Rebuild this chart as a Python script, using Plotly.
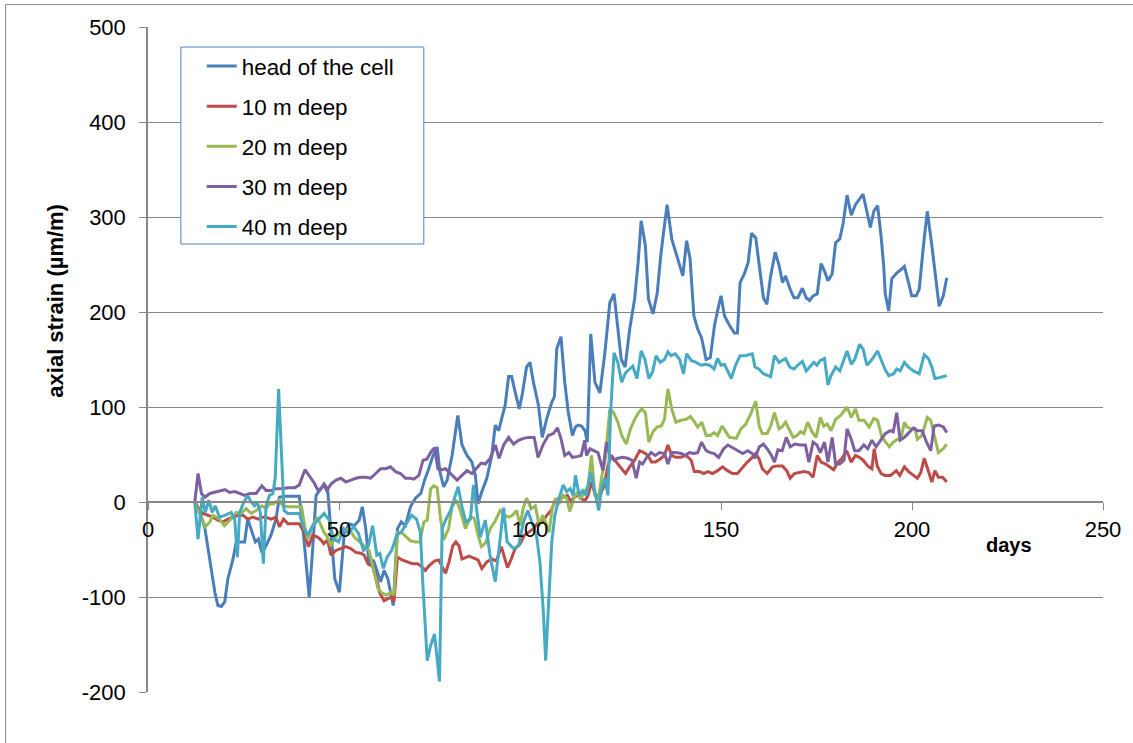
import plotly.graph_objects as go

# ---------------- data ----------------
head_days = [12.25, 13.6, 14.9, 16.2, 17.5, 18.3, 19.2, 20.1, 20.9, 22.2, 23.1, 24.0, 25.3, 26.1, 27.0, 28.1, 28.9, 29.8, 30.9, 32.2,
             33.5, 34.4, 35.7, 37.5, 39.6, 40.5, 41.4, 42.2, 43.1, 44.0, 45.3, 46.1, 47.0, 47.9, 48.9, 50.1, 51.4, 52.7, 54.0, 55.3,
             56.1, 57.0, 57.9, 59.0, 60.0, 60.9, 61.8, 62.8, 64.2, 65.3, 66.3, 67.4, 68.7, 70.0, 71.4, 72.4, 73.5, 74.6, 75.7, 76.4,
             77.4, 78.3, 79.6, 81.1, 82.2, 83.5, 84.8, 85.7, 86.4, 87.4, 88.7, 90.0, 90.9, 91.8, 92.6, 93.5, 94.4, 95.2, 96.1, 97.2,
             98.0, 99.1, 100.0, 100.9, 102.2, 103.2, 104.4, 105.7, 106.4, 107.0, 108.1, 109.1, 110.0, 111.1, 111.9, 112.6, 113.5, 114.4, 115.0, 115.9,
             117.0, 118.3, 119.6, 120.9, 122.0, 123.0, 123.9, 124.9, 126.1, 127.4, 128.3, 129.1, 130.2, 131.0, 132.2, 133.3, 134.3, 135.2, 135.9, 137.1,
             138.5, 140.0, 141.0, 141.9, 142.9, 143.9, 144.9, 146.1, 147.2, 148.3, 149.2, 150.0, 150.9, 152.2, 153.5, 154.3, 155.0, 156.1, 157.1, 158.0,
             159.1, 160.2, 161.1, 162.0, 163.0, 164.2, 165.2, 166.1, 166.9, 168.1, 169.1, 170.1, 171.3, 172.3, 173.2, 174.1, 175.2, 176.2, 177.1, 178.0,
             179.1, 180.0, 181.1, 182.0, 183.0, 184.1, 185.2, 187.2, 188.2, 189.1, 190.0, 191.0, 191.9, 192.6, 193.0, 193.9, 194.7, 196.0, 197.2, 198.0,
             199.1, 199.9, 201.1, 201.9, 203.0, 204.0, 205.2, 206.0, 207.1, 208.2, 209.1]
head_vals = [0, -10, -28, -60, -95, -109, -110, -105, -81, -61, -42, -42, -42, -18, -28, -42, -39, -53, -46, -35,
             -18, 5, 6, 6, 6, -25, -67, -100, -50, 7, 14, 19, 14, -28, -81, -95, -32, -23, -25, -19,
             -5, -28, -67, -61, -74, -84, -72, -81, -109, -28, -21, -25, -5, 4, 9, 23, 35, 49, 58, 32,
             16, 23, 49, 91, 60, 49, 42, 28, -2, 11, 25, 49, 81, 75, 88, 102, 132, 132, 116, 98,
             114, 142, 147, 126, 102, 68, 88, 105, 111, 161, 174, 126, 95, 70, 79, 81, 80, 75, 63, 177,
             126, 115, 157, 210, 219, 182, 150, 142, 182, 214, 252, 296, 270, 214, 198, 220, 262, 291, 313, 277,
             259, 238, 275, 256, 196, 182, 173, 150, 152, 186, 203, 217, 196, 186, 178, 178, 231, 240, 252, 283,
             278, 245, 215, 208, 238, 263, 249, 231, 238, 224, 215, 215, 225, 215, 212, 217, 219, 251, 243, 233,
             240, 273, 277, 294, 323, 302, 313, 324, 306, 289, 306, 312, 280, 248, 219, 201, 235, 241, 245, 248,
             231, 217, 217, 224, 270, 306, 270, 245, 206, 217, 236]

d10_days = [12.25, 13.6, 14.4, 15.7, 17.0, 18.3, 19.6, 20.9, 22.2, 23.5, 24.9, 26.1, 27.5, 28.9, 29.8, 30.9, 32.2, 33.5, 34.4, 35.5,
            36.6, 38.3, 39.6, 40.9, 42.0, 43.1, 44.4, 45.3, 46.0, 47.0, 47.9, 49.2, 50.5, 51.8, 53.1, 54.4, 55.7, 56.6, 57.6, 58.7,
            59.6, 60.7, 61.8, 62.8, 63.7, 64.4, 65.3, 66.5, 67.9, 69.2, 70.5, 71.4, 72.6, 73.6, 75.1, 76.1, 77.0, 77.9, 78.8, 79.8,
            80.6, 81.4, 82.2, 83.2, 84.1, 85.3, 86.4, 87.4, 88.7, 90.0, 91.2, 92.5, 93.3, 94.1, 95.1, 96.1, 97.4, 98.5, 99.6, 100.9,
            102.2, 103.3, 104.4, 105.5, 106.5, 107.6, 108.7, 109.8, 110.7, 111.5, 112.6, 113.5, 114.5, 115.2, 116.1, 117.1, 118.3, 119.4, 120.4, 121.3,
            122.6, 123.9, 125.0, 126.1, 127.4, 128.7, 129.8, 130.9, 131.8, 132.8, 134.0, 135.2, 136.1, 137.1, 138.2, 139.5, 140.9, 142.2, 143.0, 144.3,
            145.5, 146.5, 147.8, 149.1, 150.4, 151.7, 153.0, 154.3, 155.7, 156.9, 158.2, 159.1, 160.0, 160.8, 162.1, 163.5, 164.8, 166.1, 167.2, 168.1,
            169.2, 170.4, 171.7, 173.0, 174.1, 175.2, 176.2, 177.4, 178.5, 179.5, 180.6, 181.7, 182.9, 184.1, 185.2, 186.2, 187.2, 188.4, 189.5, 190.1,
            190.9, 191.9, 192.9, 194.4, 195.9, 196.8, 198.0, 199.1, 200.4, 201.4, 202.3, 203.2, 204.1, 205.2, 206.0, 206.9, 208.0, 209.1]
d10_vals = [0, -9, -12, -14, -16, -19, -21, -18, -16, -14, -14, -18, -16, -18, -16, -16, -18, -16, -26, -18,
            -23, -23, -23, -32, -47, -35, -37, -40, -44, -40, -56, -51, -49, -47, -49, -53, -54, -56, -65, -67,
            -77, -96, -104, -102, -100, -105, -58, -61, -63, -65, -65, -67, -72, -67, -62, -61, -68, -75, -63, -46,
            -42, -46, -60, -58, -57, -59, -61, -70, -63, -60, -62, -47, -57, -69, -60, -49, -44, -35, -32, -28,
            -21, -21, -14, -9, 0, 4, 5, 7, 0, 5, 7, 3, 2, 7, 21, 7, 7, 17, 38, 49,
            42, 35, 30, 37, 44, 54, 52, 49, 42, 42, 45, 49, 60, 49, 47, 47, 49, 44, 32, 32,
            30, 32, 30, 33, 37, 33, 30, 30, 37, 42, 47, 51, 45, 35, 30, 37, 38, 38, 33, 25,
            30, 31, 32, 31, 26, 49, 42, 40, 37, 34, 42, 46, 54, 42, 49, 47, 44, 38, 35, 56,
            38, 30, 28, 28, 33, 28, 37, 32, 28, 25, 31, 46, 35, 21, 33, 26, 26, 21]

d20_days = [12.25, 13.1, 14.2, 15.0, 16.2, 17.0, 17.9, 18.7, 20.0, 21.0, 22.2, 23.1, 24.4, 25.7, 27.0, 28.3, 29.8, 30.9, 31.8, 32.7,
            33.5, 34.4, 35.3, 36.6, 38.4, 40.2, 41.0, 41.8, 43.1, 44.4, 45.3, 46.1, 47.0, 47.9, 48.8, 50.1, 51.4, 52.7, 54.0, 55.3,
            56.6, 57.9, 59.2, 60.2, 61.3, 62.5, 63.5, 64.4, 65.3, 66.3, 67.4, 68.7, 70.0, 71.2, 72.2, 73.1, 74.0, 74.8, 75.7, 76.6,
            77.4, 78.7, 79.6, 80.7, 81.6, 83.1, 84.4, 85.4, 86.4, 87.3, 88.4, 89.6, 90.9, 92.2, 93.3, 94.5, 95.4, 96.5, 97.4, 98.2,
            99.1, 100.3, 101.4, 102.4, 103.3, 104.1, 105.0, 105.8, 106.7, 107.6, 108.7, 109.6, 110.4, 111.8, 112.4, 113.2, 114.2, 115.2, 116.1, 117.0,
            117.9, 118.7, 119.7, 120.9, 121.9, 123.0, 124.0, 125.2, 126.3, 127.4, 128.4, 129.3, 130.2, 131.1, 132.2, 133.3, 134.4, 135.2, 136.1, 137.1,
            138.2, 139.5, 140.9, 142.0, 143.1, 143.9, 145.0, 146.1, 147.2, 148.2, 149.1, 150.3, 151.4, 152.2, 154.0, 155.2, 156.5, 157.8, 159.1, 160.0,
            160.8, 162.1, 163.0, 164.0, 165.2, 166.0, 166.9, 167.8, 168.9, 169.9, 170.8, 171.7, 172.7, 173.8, 174.9, 176.0, 176.9, 177.8, 178.8, 180.0,
            181.3, 183.0, 184.1, 185.2, 186.1, 187.4, 188.8, 190.0, 191.0, 192.1, 193.0, 194.1, 195.1, 196.2, 197.1, 198.0, 198.7, 199.7, 200.8, 201.4,
            202.6, 204.0, 204.9, 205.8, 206.9, 208.2, 209.1]
d20_vals = [0, -9, -18, -26, -21, -14, -16, -18, -25, -21, -16, -11, -12, -7, -12, -9, -4, -7, -2, -2,
            0, 2, -4, -5, -5, -5, -25, -39, -25, -16, -25, -32, -37, -46, -39, -32, -30, -28, -37, -42,
            -46, -51, -74, -91, -96, -98, -95, -98, -32, -32, -36, -41, -42, -42, -21, -19, 14, 17, 15, -18,
            -40, -28, -5, 2, -7, -28, -16, -17, -35, -47, -43, -28, -20, -9, -14, -16, -14, -9, -25, -7,
            4, -7, -4, -25, -14, -21, -32, -7, 4, -2, 7, 4, -10, 7, 10, 3, 10, 17, 49, 7,
            3, 25, 45, 98, 94, 84, 70, 61, 77, 87, 94, 98, 94, 63, 74, 79, 80, 87, 119, 98,
            84, 86, 87, 90, 84, 79, 84, 70, 70, 73, 70, 80, 73, 68, 67, 77, 82, 93, 106, 80,
            72, 72, 80, 94, 77, 79, 84, 77, 68, 70, 74, 72, 84, 74, 68, 89, 80, 82, 75, 87,
            91, 100, 89, 98, 86, 86, 79, 88, 86, 68, 63, 58, 63, 66, 66, 84, 79, 77, 77, 66,
            70, 89, 86, 70, 52, 56, 61]

d30_days = [12.25, 13.1, 14.0, 14.9, 16.2, 17.9, 19.2, 20.2, 21.4, 22.7, 24.0, 25.3, 26.6, 28.3, 29.8, 30.9, 32.2, 33.5, 34.8, 36.6,
            38.4, 39.6, 41.1, 42.2, 43.5, 44.4, 45.3, 46.0, 46.8, 47.9, 49.2, 50.5, 51.8, 53.1, 54.4, 55.7, 57.0, 58.3, 59.6, 60.9,
            62.2, 63.5, 64.8, 66.1, 67.4, 68.7, 69.6, 70.9, 72.0, 73.0, 74.1, 75.0, 75.9, 76.8, 77.9, 79.2, 80.9, 82.2, 83.5, 84.8,
            86.1, 87.2, 88.3, 89.6, 90.9, 91.9, 93.1, 94.4, 95.7, 97.0, 98.3, 99.6, 101.1, 102.1, 103.5, 104.8, 106.1, 107.2, 108.1, 109.1,
            110.2, 111.1, 112.6, 113.4, 114.3, 114.8, 115.7, 116.8, 117.8, 119.1, 120.0, 120.9, 122.0, 123.0, 124.3, 125.6, 126.7, 127.8, 128.7, 129.5,
            130.4, 131.7, 132.8, 133.9, 135.2, 136.1, 137.1, 138.2, 139.6, 140.6, 141.7, 142.8, 143.9, 144.9, 146.1, 147.2, 148.2, 149.4, 150.7, 151.8,
            153.1, 154.3, 155.7, 157.0, 158.2, 158.9, 160.0, 161.1, 162.1, 163.2, 164.0, 164.9, 166.0, 167.1, 168.1, 169.3, 170.8, 172.1, 173.0, 174.1,
            175.1, 176.0, 177.1, 178.0, 179.1, 180.0, 181.1, 182.2, 183.0, 184.1, 185.0, 186.1, 187.4, 188.4, 189.5, 190.6, 191.7, 193.0, 194.3, 195.1,
            196.0, 196.9, 198.0, 199.1, 200.4, 201.4, 202.7, 203.8, 204.9, 205.8, 207.0, 208.2, 209.1]
d30_vals = [0, 30, 9, 5, 9, 11, 12, 13, 10, 11, 9, 7, 9, 9, 17, 12, 12, 14, 14, 15,
            15, 18, 34, 28, 20, 13, 14, 18, 12, 19, 23, 25, 21, 23, 25, 26, 26, 25, 30, 35,
            35, 37, 32, 30, 25, 25, 24, 28, 44, 45, 53, 57, 35, 34, 35, 30, 23, 28, 33, 30,
            36, 41, 40, 46, 60, 46, 60, 68, 61, 65, 67, 68, 68, 47, 61, 70, 72, 78, 67, 49,
            52, 47, 48, 49, 65, 49, 56, 54, 52, 33, 63, 49, 44, 46, 47, 46, 44, 25, 42, 40,
            46, 52, 49, 52, 51, 40, 52, 52, 51, 49, 52, 51, 52, 63, 54, 52, 51, 47, 56, 60,
            57, 54, 51, 54, 51, 46, 58, 61, 56, 49, 42, 55, 54, 68, 58, 61, 60, 60, 42, 63,
            60, 52, 63, 42, 68, 40, 40, 44, 77, 66, 54, 54, 60, 56, 65, 58, 65, 72, 75, 74,
            94, 65, 68, 73, 78, 75, 75, 63, 54, 80, 81, 79, 73]

d40_days = [12.25, 13.1, 14.2, 15.0, 15.9, 16.8, 17.6, 18.7, 20.1, 21.8, 22.7, 23.4, 24.0, 24.9, 26.1, 27.0, 27.9, 28.6, 29.4, 30.2,
            30.9, 31.8, 32.7, 33.3, 34.2, 34.9, 35.6, 36.6, 38.4, 39.6, 40.8, 41.8, 43.1, 44.6, 46.1, 47.4, 48.6, 49.9, 51.2, 52.5,
            53.8, 55.1, 56.4, 57.7, 58.8, 59.9, 60.7, 61.6, 62.6, 63.8, 65.1, 66.4, 67.7, 69.0, 70.3, 71.3, 72.0, 73.1, 74.0, 75.0,
            75.7, 76.3, 77.0, 77.9, 79.2, 80.3, 81.2, 82.2, 83.2, 84.4, 85.2, 86.1, 87.0, 88.3, 89.6, 90.9, 91.9, 93.1, 94.0, 95.7,
            97.0, 98.3, 99.4, 100.4, 101.7, 102.6, 103.5, 104.1, 105.0, 105.7, 106.5, 107.6, 108.7, 109.6, 110.5, 111.3, 111.9, 112.9, 113.8, 114.7,
            115.9, 116.9, 118.0, 118.7, 119.6, 120.4, 121.1, 122.0, 123.0, 124.0, 125.0, 126.1, 126.9, 128.0, 129.1, 130.1, 131.1, 132.1, 133.0, 134.1,
            135.2, 136.1, 136.9, 138.0, 139.2, 140.2, 141.0, 142.2, 143.5, 144.8, 145.8, 147.0, 148.2, 149.1, 150.0, 150.9, 151.8, 152.7, 153.8, 155.0,
            156.3, 158.2, 158.9, 159.9, 161.1, 162.1, 163.0, 164.0, 165.2, 166.0, 166.9, 168.0, 169.1, 170.1, 171.3, 172.3, 173.3, 174.3, 175.1, 176.0,
            177.1, 178.0, 178.8, 180.0, 181.1, 182.2, 183.0, 184.1, 185.0, 186.3, 187.2, 188.2, 189.5, 191.0, 192.1, 193.0, 193.9, 195.2, 196.0, 196.9,
            198.0, 199.1, 200.4, 201.9, 203.2, 204.3, 205.2, 206.0, 207.3, 209.1]
d40_vals = [0, -39, 5, -11, 2, -11, -4, -16, -14, -11, -18, -58, -11, -2, 7, 0, -4, 0, -11, -65,
            -4, 7, 9, 25, 119, 60, -9, -12, -12, -12, -28, -35, -25, -18, -12, -19, -39, -42, -28, -33,
            -26, -33, -51, -46, -25, -56, -54, -70, -58, -51, -35, -31, -22, -14, -18, -32, -90, -167, -151, -139,
            -165, -189, -28, -19, -9, 5, 16, -5, -21, -18, 18, -10, -37, -19, -58, -84, -46, -6, -42, -49,
            -46, -21, -9, -21, -35, -63, -116, -167, -98, -42, -14, 4, 18, 11, 14, 7, 28, 7, 12, 7,
            31, 10, -9, 14, 25, 7, 94, 157, 147, 126, 136, 140, 143, 130, 159, 150, 130, 137, 154, 147,
            150, 158, 154, 156, 150, 135, 156, 149, 147, 144, 145, 144, 140, 151, 144, 145, 137, 130, 144, 154,
            154, 156, 142, 140, 135, 133, 132, 154, 147, 149, 151, 142, 140, 144, 148, 138, 142, 147, 144, 149,
            151, 123, 133, 142, 138, 151, 159, 145, 150, 166, 161, 144, 150, 159, 149, 139, 133, 135, 140, 138,
            147, 142, 138, 135, 155, 151, 142, 130, 131, 133]

series_names = ["head of the cell", "10 m deep", "20 m deep", "30 m deep", "40 m deep"]
series_colors = ["#4A7EBB", "#BE4B48", "#98B954", "#7D60A0", "#46AAC5"]
x_ticks = [0, 50, 100, 150, 200, 250]
y_ticks = [-200, -100, 0, 100, 200, 300, 400, 500]

# ---------------- figure ----------------
fig = go.Figure()
all_days = [head_days, d10_days, d20_days, d30_days, d40_days]
all_vals = [head_vals, d10_vals, d20_vals, d30_vals, d40_vals]
for i, (name, color) in enumerate(zip(series_names, series_colors)):
    fig.add_trace(go.Scatter(
        x=all_days[i], y=all_vals[i], name=name, mode="lines",
        line=dict(color=color, width=3), legendgroup=f"g{i}",
    ))

GRID = "#868686"
TICKFONT = dict(family="Liberation Sans, Arial", size=22, color="black")

fig.update_layout(
    width=1133, height=743,
    margin=dict(l=148, r=26, t=27, b=51),
    paper_bgcolor="white", plot_bgcolor="white",
    showlegend=True,
    legend=dict(
        x=0.0563, y=0.973, xanchor="left", yanchor="top",
        font=dict(family="Liberation Sans, Arial", size=22.4, color="black"),
        bgcolor="rgba(0,0,0,0)", borderwidth=0,
        tracegroupgap=8, traceorder="grouped",
    ),
    xaxis=dict(
        range=[0, 250], tickvals=x_ticks, ticktext=[str(v) for v in x_ticks],
        showgrid=False, zeroline=False,
        showline=True, linecolor=GRID, linewidth=1.5,
        ticks="outside", ticklen=7, tickcolor=GRID,
        anchor="free", position=(0 + 200) / 700,
        tickfont=TICKFONT, ticklabelstandoff=1,
    ),
    yaxis=dict(
        range=[-200, 500], tickvals=y_ticks, ticktext=[str(v) for v in y_ticks],
        showgrid=True, gridcolor=GRID, gridwidth=1,
        zeroline=False, showline=True, linecolor=GRID, linewidth=1.5,
        ticks="outside", ticklen=7, tickcolor=GRID,
        tickfont=TICKFONT, ticklabelstandoff=9,
    ),
    annotations=[
        dict(text="<b>axial strain (µm/m)</b>", textangle=-90, xref="paper", yref="paper",
             x=-0.097, y=0.589, xanchor="center", yanchor="middle", showarrow=False,
             font=dict(family="Liberation Sans, Arial", size=22, color="black")),
        dict(text="<b>days</b>", xref="paper", yref="paper", x=0.902, y=0.221,
             xanchor="center", yanchor="middle", showarrow=False,
             font=dict(family="Liberation Sans, Arial", size=20, color="black")),
    ],
    shapes=[
        # legend box
        dict(type="rect", xref="paper", yref="paper", x0=0.0344, x1=0.2888, y0=0.6737, y1=0.9699,
             fillcolor="white", line=dict(color="#4F81BD", width=1), layer="above"),
        # outer chart frame
        dict(type="rect", xref="paper", yref="paper", x0=-0.1491, x1=1.034, y0=-0.12, y1=1.0338,
             fillcolor="rgba(0,0,0,0)", line=dict(color="#8C8C8C", width=1), layer="above"),
    ],
)

fig.write_html("out.html")
